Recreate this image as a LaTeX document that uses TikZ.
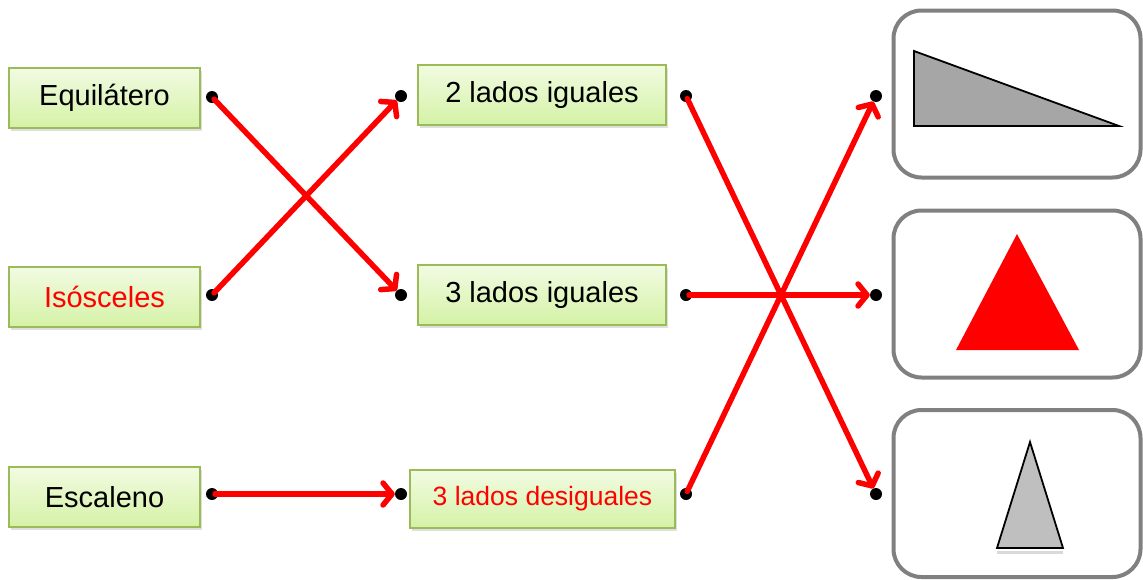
\documentclass[tikz,border=0pt]{standalone}
\usepackage{fontspec}
\setmainfont{Liberation Sans}
\usetikzlibrary{arrows.meta,shadows}
\definecolor{boxborder}{RGB}{155,187,89}
\definecolor{boxtop}{RGB}{242,251,226}
\definecolor{boxbot}{RGB}{212,242,166}
\definecolor{framegray}{RGB}{128,128,128}
\definecolor{tri1}{RGB}{166,166,166}
\definecolor{tri3}{RGB}{191,191,191}
\definecolor{myred}{RGB}{255,0,0}
\begin{document}
\begin{tikzpicture}[x=1pt,y=-1pt,
  greenbox/.style={draw=boxborder,line width=2pt,top color=boxtop,bottom color=boxbot,
    minimum width=190pt,minimum height=60pt,inner sep=0pt,
    font=\fontsize{29}{34}\selectfont,
    drop shadow={opacity=0.25,shadow xshift=2pt,shadow yshift=-3pt}},
  framebox/.style={draw=framegray,line width=4pt,rounded corners=28pt,fill=white,
    minimum width=247pt,minimum height=167pt,inner sep=0pt},
  dotnode/.style={circle,fill=black,minimum size=12pt,inner sep=0pt},
  link/.style={draw=myred,line width=5.5pt,shorten <=3pt,line cap=round,
    -{Straight Barb[length=9pt,width=22pt,line width=5.5pt,round]}},
  tri/.style={draw=black,line width=1.8pt,line join=miter}
]
\useasboundingbox (0,0) rectangle (1143,579);

% left column
\node[greenbox,minimum width=191pt] (eq) at (104.5,98) {Equilátero};
\node[greenbox,minimum width=191pt,text=myred] (is) at (104.5,297) {Isósceles};
\node[greenbox,minimum width=191pt] (es) at (104.5,497) {Escaleno};

% middle column
\node[greenbox,minimum width=248pt] (m1) at (542,94.5) {2 lados iguales};
\node[greenbox,minimum width=248pt] (m2) at (542,294.5) {3 lados iguales};
\node[greenbox,minimum width=265pt,minimum height=58pt,text=myred,font=\fontsize{26.5}{31}\selectfont] (m3) at (542.5,499) {3 lados desiguales};

% right frames
\node[framebox] (f1) at (1017,94) {};
\node[framebox] (f2) at (1017,294) {};
\node[framebox] (f3) at (1017,493.5) {};

% triangles
\draw[tri,fill=tri1] (914,51) -- (914,126) -- (1119,126) -- cycle;
\fill[myred] (1017,234) -- (1079,350) -- (956,350) -- cycle;
\fill[black!15] (997,551) rectangle (1063,554);
\draw[tri,fill=tri3] (1030,442) -- (1063,548) -- (997,548) -- cycle;

% dots
\node[dotnode] (a1) at (212,97) {};
\node[dotnode] (a2) at (212,295) {};
\node[dotnode] (a3) at (212,494) {};
\node[dotnode] (b1) at (401,96) {};
\node[dotnode] (b2) at (401,295) {};
\node[dotnode] (b3) at (401,494) {};
\node[dotnode] (c1) at (686,96) {};
\node[dotnode] (c2) at (686,295) {};
\node[dotnode] (c3) at (686,494) {};
\node[dotnode] (d1) at (876,96) {};
\node[dotnode] (d2) at (876,295) {};
\node[dotnode] (d3) at (876,494) {};

% connectors
\draw[link] (a1.center) -- (b2);
\draw[link] (a2.center) -- (b1);
\draw[link] (a3.center) -- (b3);
\draw[link] (c1.center) -- (d3);
\draw[link] (c2.center) -- (d2);
\draw[link] (c3.center) -- (d1);
\end{tikzpicture}
\end{document}
